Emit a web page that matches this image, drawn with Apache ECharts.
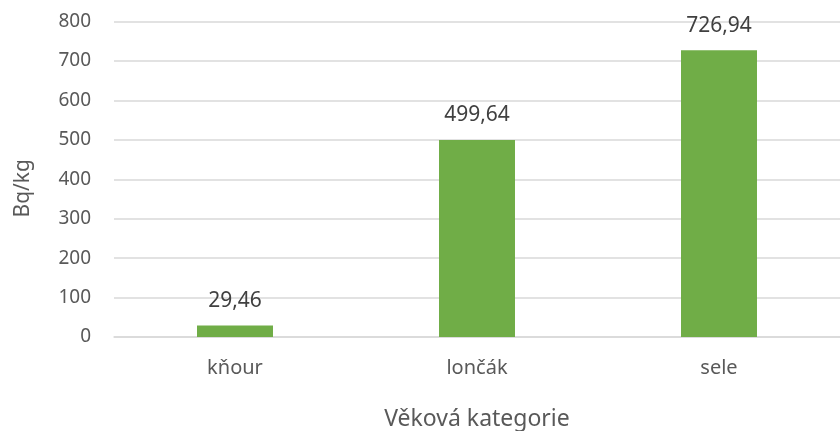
<!DOCTYPE html>
<html>
<head>
<meta charset="utf-8">
<script src="https://cdn.jsdelivr.net/npm/echarts@6/dist/echarts.min.js"></script>
<style>
  html, body { margin: 0; padding: 0; background: #fff; }
  #chart { width: 840px; height: 431px; }
</style>
</head>
<body>
<div id="chart"></div>
<script>
const categories = ['kňour', 'lončák', 'sele'];
const values = [29.46, 499.64, 726.94];
const yTicks = [0, 100, 200, 300, 400, 500, 600, 700, 800];

const fontFamily = '"Noto Sans", "Open Sans", sans-serif';
const textColor = '#595959';

let myChart = echarts.init(document.getElementById('chart'));

myChart.setOption({
    animation: false,
    grid: {
        left: 114,
        right: 0,
        top: 21.5,
        bottom: 94,
        outerBoundsMode: 'none'
    },
    xAxis: {
        type: 'category',
        data: categories,
        name: 'Věková kategorie',
        nameLocation: 'middle',
        nameGap: 71,
        nameTextStyle: { color: textColor, fontSize: 23, fontFamily: fontFamily },
        axisLine: { lineStyle: { color: '#d9d9d9', width: 1.5 } },
        axisTick: { show: false },
        axisLabel: { color: textColor, fontSize: 20, fontFamily: fontFamily, margin: 21 }
    },
    yAxis: {
        type: 'value',
        min: yTicks[0],
        max: yTicks[yTicks.length - 1],
        interval: 100,
        name: 'Bq/kg',
        nameLocation: 'middle',
        nameGap: 80,
        nameTextStyle: { color: textColor, fontSize: 21, fontFamily: fontFamily, padding: [0, 18, 0, 0] },
        axisLine: { show: false },
        axisTick: { show: false },
        axisLabel: { color: textColor, fontSize: 19, fontFamily: fontFamily, margin: 23 },
        splitLine: { lineStyle: { color: '#d9d9d9', width: 1.5 } }
    },
    series: [
        {
            type: 'bar',
            data: values,
            barWidth: '31.4%',
            itemStyle: { color: '#70ad47' },
            label: {
                show: true,
                position: 'top',
                distance: 14,
                color: '#404040',
                fontSize: 21,
                fontFamily: fontFamily,
                formatter: p => p.value.toFixed(2).replace('.', ',')
            }
        }
    ]
});
</script>
</body>
</html>
